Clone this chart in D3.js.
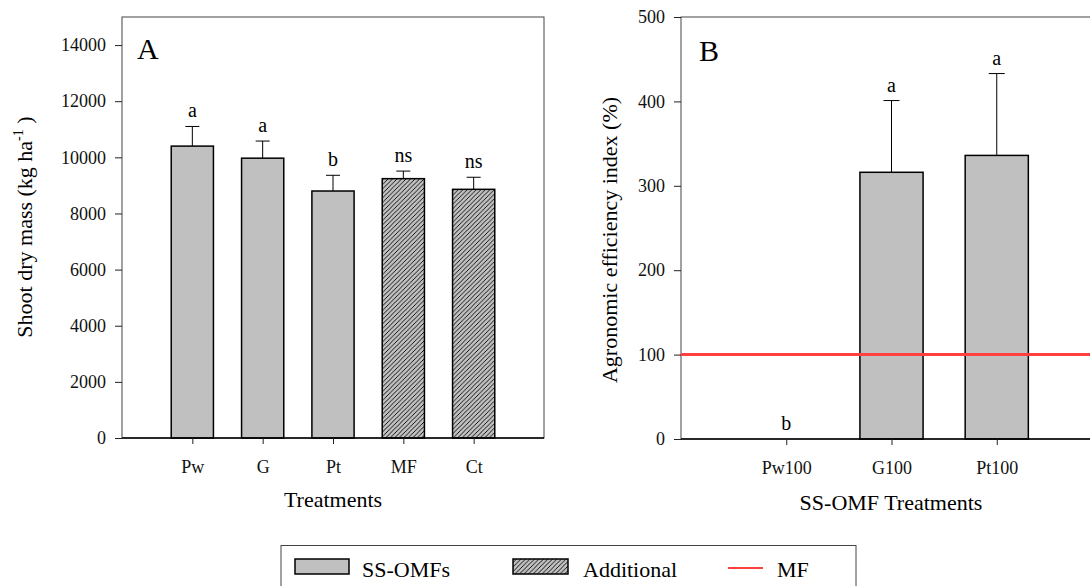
<!DOCTYPE html>
<html>
<head>
<meta charset="utf-8">
<script src="https://cdn.jsdelivr.net/npm/d3@7"></script>
<style>
  body { margin: 0; background: #fff; }
  svg { display: block; font-family: "Liberation Serif", "Times New Roman", serif; }
  .axis path.domain { display: none; }
  .axis line { stroke: #222; }
  .axis text { font-size: 18px; fill: #111; font-family: "Liberation Serif", serif; }
</style>
</head>
<body>
<svg id="chart" width="1090" height="586"></svg>
<script>
// panel A: shoot dry mass
const catsA = ['Pw', 'G', 'Pt', 'MF', 'Ct'];
const meanA = [10400, 9970, 8800, 9240, 8860];
const errA = [700, 610, 560, 270, 430];
const lettersA = ['a', 'a', 'b', 'ns', 'ns'];
const groupA = ['SS-OMFs', 'SS-OMFs', 'SS-OMFs', 'Additional', 'Additional'];
const ticksA = [0, 2000, 4000, 6000, 8000, 10000, 12000, 14000];

// panel B: agronomic efficiency index
const catsB = ['Pw100', 'G100', 'Pt100'];
const meanB = [0, 316, 336];
const errB = [0, 85, 97];
const lettersB = ['b', 'a', 'a'];
const ticksB = [0, 100, 200, 300, 400, 500];
const mfLevel = 100;

const legendItems = ['SS-OMFs', 'Additional', 'MF'];

const svg = d3.select('#chart');
const grey = '#c0c0c0';
const red = '#ff4040';

// hatch for the additional treatments
const defs = svg.append('defs');
const hatch = defs.append('pattern')
    .attr('id', 'hatch')
    .attr('patternUnits', 'userSpaceOnUse')
    .attr('width', 4.5)
    .attr('height', 4.5);
hatch.append('rect').attr('width', 4.5).attr('height', 4.5).attr('fill', grey);
hatch.append('path')
    .attr('d', 'M0,4.5 L4.5,0 M-1,1 L1,-1 M3.5,5.5 L5.5,3.5')
    .attr('stroke', '#000')
    .attr('stroke-width', 0.9);

function panel(opts) {
    const x = d3.scaleLinear().domain([0, opts.cats.length + 1]).range(opts.xr);
    const y = d3.scaleLinear().domain(opts.yd).range(opts.yr);
    const g = svg.append('g');
    const bw = x(0.6) - x(0);

    // frame
    g.append('rect')
        .attr('x', opts.xr[0]).attr('y', opts.yr[1])
        .attr('width', opts.xr[1] - opts.xr[0])
        .attr('height', opts.yr[0] - opts.yr[1])
        .attr('fill', 'none')
        .attr('stroke', '#444')
        .attr('stroke-width', 1);

    // bars
    g.selectAll('rect.bar')
        .data(opts.cats)
        .join('rect')
        .attr('class', 'bar')
        .attr('x', (d, i) => x(i + 1) - bw / 2)
        .attr('y', (d, i) => y(opts.mean[i]))
        .attr('width', bw)
        .attr('height', (d, i) => y(0) - y(opts.mean[i]))
        .attr('fill', (d, i) => opts.fill(i))
        .attr('stroke', '#000')
        .attr('stroke-width', 1.5)
        .attr('display', (d, i) => opts.mean[i] > 0 ? null : 'none');

    // error bars (upper only)
    opts.cats.forEach((c, i) => {
        if (!opts.err[i]) return;
        const cx = x(i + 1);
        const top = y(opts.mean[i] + opts.err[i]);
        g.append('line')
            .attr('x1', cx).attr('x2', cx)
            .attr('y1', y(opts.mean[i])).attr('y2', top)
            .attr('stroke', '#000').attr('stroke-width', 1);
        g.append('line')
            .attr('x1', cx - opts.cap).attr('x2', cx + opts.cap)
            .attr('y1', top).attr('y2', top)
            .attr('stroke', '#000').attr('stroke-width', 1);
    });

    // letters
    g.selectAll('text.letter')
        .data(opts.letters)
        .join('text')
        .attr('class', 'letter')
        .attr('x', (d, i) => x(i + 1))
        .attr('y', (d, i) => y(opts.mean[i] + opts.err[i]) - 9)
        .attr('text-anchor', 'middle')
        .attr('font-size', 20)
        .text(d => d);

    // bottom axis line
    g.append('line')
        .attr('x1', opts.xr[0]).attr('x2', opts.xr[1])
        .attr('y1', y(0)).attr('y2', y(0))
        .attr('stroke', '#000').attr('stroke-width', 1.5);

    const xAxis = d3.axisBottom(x)
        .tickValues(d3.range(1, opts.cats.length + 1))
        .tickFormat(v => opts.cats[v - 1])
        .tickSizeInner(6)
        .tickSizeOuter(0)
        .tickPadding(16);
    g.append('g')
        .attr('class', 'axis')
        .attr('transform', `translate(0,${y(0)})`)
        .call(xAxis);

    const yAxis = d3.axisLeft(y)
        .tickValues(opts.ticks)
        .tickFormat(d3.format('d'))
        .tickSizeInner(7)
        .tickSizeOuter(0)
        .tickPadding(9);
    g.append('g')
        .attr('class', 'axis')
        .attr('transform', `translate(${opts.xr[0]},0)`)
        .call(yAxis);

    // panel letter
    g.append('text')
        .attr('x', opts.tag[1]).attr('y', opts.tag[2])
        .attr('font-size', 30)
        .text(opts.tag[0]);

    return { g, x, y };
}

const pa = panel({
    cats: catsA, mean: meanA, err: errA, letters: lettersA,
    ticks: ticksA, yd: [0, 15000],
    xr: [122, 544], yr: [438, 17],
    cap: 7,
    fill: i => groupA[i] === 'Additional' ? 'url(#hatch)' : grey,
    tag: ['A', 137, 59]
});

const pb = panel({
    cats: catsB, mean: meanB, err: errB, letters: lettersB,
    ticks: ticksB, yd: [0, 500],
    xr: [681, 1102], yr: [439, 17],
    cap: 8,
    fill: () => grey,
    tag: ['B', 699, 61]
});

// MF reference line in panel B
pb.g.append('line')
    .attr('x1', 681).attr('x2', 1102)
    .attr('y1', pb.y(mfLevel)).attr('y2', pb.y(mfLevel))
    .attr('stroke', red)
    .attr('stroke-width', 3);

// axis titles
svg.append('text')
    .attr('x', 333).attr('y', 507)
    .attr('text-anchor', 'middle')
    .attr('font-size', 22)
    .text('Treatments');

svg.append('text')
    .attr('x', 891).attr('y', 510)
    .attr('text-anchor', 'middle')
    .attr('font-size', 22)
    .text('SS-OMF Treatments');

const ta = svg.append('text')
    .attr('transform', 'translate(32,227) rotate(-90)')
    .attr('text-anchor', 'middle')
    .attr('font-size', 22);
ta.append('tspan').text('Shoot dry mass (kg ha');
ta.append('tspan').attr('font-size', 14).attr('dy', -9).text('-1');
ta.append('tspan').attr('dy', 9).text(' )');

svg.append('text')
    .attr('transform', 'translate(617,240) rotate(-90)')
    .attr('text-anchor', 'middle')
    .attr('font-size', 22)
    .text('Agronomic efficiency index (%)');

// legend
const lg = svg.append('g');
lg.append('rect')
    .attr('x', 281).attr('y', 545.5)
    .attr('width', 575).attr('height', 60)
    .attr('fill', '#fff')
    .attr('stroke', '#444');

lg.append('rect')
    .attr('x', 295).attr('y', 559).attr('width', 54).attr('height', 15)
    .attr('fill', grey).attr('stroke', '#000').attr('stroke-width', 1.5);
lg.append('rect')
    .attr('x', 513).attr('y', 559).attr('width', 55).attr('height', 15)
    .attr('fill', 'url(#hatch)').attr('stroke', '#000').attr('stroke-width', 1.5);
lg.append('line')
    .attr('x1', 728).attr('x2', 763).attr('y1', 568).attr('y2', 568)
    .attr('stroke', red).attr('stroke-width', 2);

lg.selectAll('text')
    .data(legendItems)
    .join('text')
    .attr('x', (d, i) => [362, 583, 777][i])
    .attr('y', 577)
    .attr('font-size', 22)
    .text(d => d);
</script>
</body>
</html>
